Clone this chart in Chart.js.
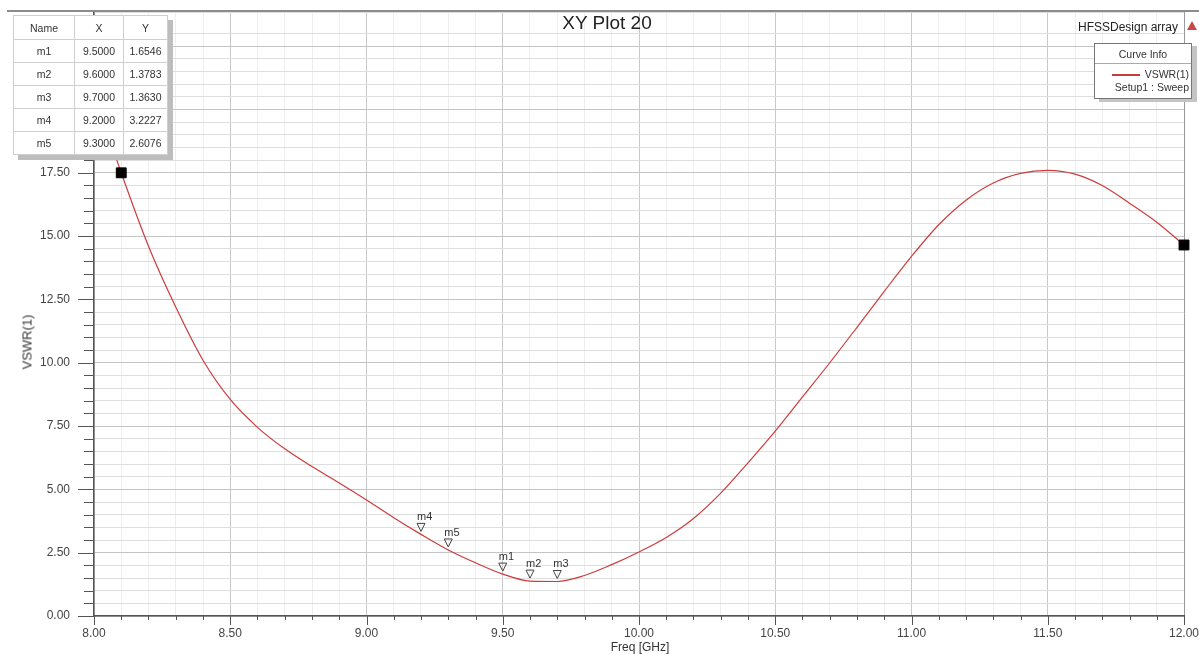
<!DOCTYPE html>
<html>
<head>
<meta charset="utf-8">
<script src="https://cdn.jsdelivr.net/npm/chart.js@4.4.1/dist/chart.umd.min.js"></script>
<style>
  body { margin: 0; background: #fff; font-family: "Liberation Sans", Arial, sans-serif; }
  #wrap { position: relative; width: 1199px; height: 654px; overflow: hidden; }
  canvas { position: absolute; left: 0; top: 0; }
  .txt { position: absolute; color: #333; white-space: nowrap; }
  #frame { position: absolute; left: 7px; top: 10px; width: 1192px; height: 2px; background: #8c8c8c; }
  #title { left: 0; width: 1214px; top: 12px; text-align: center; font-size: 19px; color: #222; }
  #design { left: 1078px; top: 20px; font-size: 12px; color: #222; }
  #logo { position: absolute; left: 1187px; top: 21px; width: 0; height: 0;
          border-left: 5px solid transparent; border-right: 5px solid transparent; border-bottom: 9px solid #c84848; }
  #ylab { left: 27px; top: 342px; font-size: 13px; transform: translate(-50%, -50%) rotate(-90deg); }
  #xlab { left: 640px; top: 640px; font-size: 12px; transform: translateX(-50%); }
  table.mk { position: absolute; left: 13px; top: 15px; border-collapse: collapse; background: #fff;
             border: 1px solid #555; box-shadow: 5px 5px 0 #bdbdbd; font-size: 10.5px; color: #333; }
  table.mk td { border: 1px solid #cfcfcf; text-align: center; height: 22px; padding: 0; }
  #legend { position: absolute; left: 1094px; top: 43px; width: 96px; height: 54px; background: #fff;
            border: 1px solid #777; box-shadow: 5px 3px 0 #c4c4c4; font-size: 10.5px; color: #333; }
  #legend .hd { text-align: center; height: 19px; line-height: 21px; border-bottom: 1px solid #aaa; }
  #legend .row { text-align: right; padding-right: 2px; height: 13px; line-height: 14px; }
  #legend .ln { display: inline-block; width: 28px; height: 2px; background: #c83c3c; vertical-align: middle; margin-right: 5px; }
</style>
</head>
<body>
<div id="wrap">
  <canvas id="plot" width="1199" height="654"></canvas>
  <div id="frame"></div>
  <div class="txt" id="title">XY Plot 20</div>
  <div class="txt" id="design">HFSSDesign array</div>
  <div id="logo"></div>
  <div class="txt" id="ylab">VSWR(1)</div>
  <div class="txt" id="xlab">Freq [GHz]</div>
  <table class="mk" id="markerTable"></table>
  <div id="legend">
    <div class="hd">Curve Info</div>
    <div class="row" style="margin-top:3px"><span class="ln"></span>VSWR(1)</div>
    <div class="row">Setup1 : Sweep</div>
  </div>
</div>
<script>
// Sweep data
const freq = [8.0, 8.1, 8.2, 8.3, 8.4, 8.5, 8.6, 8.7, 8.8, 8.9,
              9.0, 9.1, 9.2, 9.3, 9.4, 9.5, 9.6, 9.7, 9.8, 9.9,
              10.0, 10.1, 10.2, 10.3, 10.4, 10.5, 10.6, 10.7, 10.8, 10.9,
              11.0, 11.1, 11.2, 11.3, 11.4, 11.5, 11.6, 11.7, 11.8, 11.9, 12.0];
const vswr = [20.7, 17.5, 14.6, 12.2, 10.1, 8.55, 7.45, 6.6, 5.9, 5.25,
              4.58, 3.88, 3.2227, 2.6076, 2.1, 1.6546, 1.3783, 1.3630, 1.6, 2.03,
              2.53, 3.1, 3.85, 4.85, 6.05, 7.3, 8.65, 10.0, 11.4, 12.82,
              14.2, 15.45, 16.42, 17.1, 17.48, 17.6, 17.45, 17.0, 16.3, 15.55, 14.65];

// Markers
const markerNames = ['m1', 'm2', 'm3', 'm4', 'm5'];
const markerX = [9.5, 9.6, 9.7, 9.2, 9.3];
const markerY = [1.6546, 1.3783, 1.3630, 3.2227, 2.6076];

// curve end squares
const endX = [8.1, 12.0];
const endY = [17.5, 14.65];

// marker table
const tbl = document.getElementById('markerTable');
let html = '<tr><td style="width:60px;height:23px">Name</td><td style="width:48px">X</td><td style="width:43px">Y</td></tr>';
markerNames.forEach((n, i) => {
    html += `<tr><td>${n}</td><td>${markerX[i].toFixed(4)}</td><td>${markerY[i].toFixed(4)}</td></tr>`;
});
tbl.innerHTML = html;

const isMajorX = v => Math.round(v * 10) % 5 === 0;
const isMajorY = v => Math.round(v * 2) % 5 === 0;

// tick marks + markers
const extras = {
    id: 'extras',
    afterDatasetsDraw(chart) {
        const c = chart.ctx, xs = chart.scales.x, ys = chart.scales.y, a = chart.chartArea;
        c.save();
        c.strokeStyle = '#555';
        c.lineWidth = 1;
        for (let i = 0; i <= 40; i++) {
            const v = 8 + i / 10;
            const px = Math.round(xs.getPixelForValue(v)) + 0.5;
            const len = i % 5 === 0 ? 9 : 4;
            c.beginPath(); c.moveTo(px, a.bottom); c.lineTo(px, a.bottom + len); c.stroke();
        }
        for (let i = 0; i <= 47; i++) {
            const v = i / 2;
            const py = Math.round(ys.getPixelForValue(v)) + 0.5;
            const len = i % 5 === 0 ? 16 : 10;
            c.beginPath(); c.moveTo(a.left, py); c.lineTo(a.left - len, py); c.stroke();
        }
        c.font = '11px "Liberation Sans", Arial, sans-serif';
        c.fillStyle = '#333';
        c.strokeStyle = '#444';
        markerNames.forEach((n, i) => {
            const px = xs.getPixelForValue(markerX[i]);
            const py = ys.getPixelForValue(markerY[i]);
            c.beginPath();
            c.moveTo(px - 4, py - 11); c.lineTo(px + 4, py - 11); c.lineTo(px, py - 3); c.closePath();
            c.stroke();
            c.fillText(n, px - 4, py - 14);
        });
        c.restore();
    }
};

new Chart(document.getElementById('plot'), {
    type: 'scatter',
    data: {
        datasets: [{
            data: freq.map((f, i) => ({x: f, y: vswr[i]})),
            showLine: true,
            borderColor: '#cc3c3c',
            borderWidth: 1.2,
            pointRadius: 0,
            cubicInterpolationMode: 'monotone',
            order: 2
        }, {
            data: endX.map((f, i) => ({x: f, y: endY[i]})),
            pointStyle: 'rect',
            pointRadius: 7,
            backgroundColor: '#000',
            borderColor: '#000',
            clip: false,
            order: 1
        }]
    },
    options: {
        responsive: false,
        animation: false,
        layout: {padding: {left: 0, right: 15, top: 12, bottom: 0}},
        plugins: {legend: {display: false}, tooltip: {enabled: false}},
        scales: {
            x: {
                type: 'linear', min: 8, max: 12,
                afterFit(s) { s.height = 38; s.paddingLeft = 0; s.paddingRight = 0; },
                border: {color: '#555', width: 1.5},
                grid: {
                    drawTicks: false,
                    color: ctx => isMajorX(ctx.tick.value) ? (ctx.tick.value === 12 ? '#9a9a9a' : '#c8c8c8') : '#eeeeee'
                },
                ticks: {
                    stepSize: 0.1, autoSkip: false, maxRotation: 0, padding: 10,
                    color: '#444', font: {family: '"Liberation Sans", Arial, sans-serif', size: 12},
                    callback: v => isMajorX(v) ? v.toFixed(2) : ''
                }
            },
            y: {
                min: 0, max: 23.85,
                afterFit(s) { s.width = 94; s.paddingTop = 0; s.paddingBottom = 0; },
                border: {color: '#555', width: 1.5},
                grid: {
                    drawTicks: false,
                    color: ctx => isMajorY(ctx.tick.value) ? '#c4c4c4' : '#dedede'
                },
                ticks: {
                    stepSize: 0.5, autoSkip: false, padding: 24,
                    color: '#444', font: {family: '"Liberation Sans", Arial, sans-serif', size: 12},
                    callback: v => isMajorY(v) ? v.toFixed(2) : ''
                }
            }
        }
    },
    plugins: [extras]
});
</script>
</body>
</html>
